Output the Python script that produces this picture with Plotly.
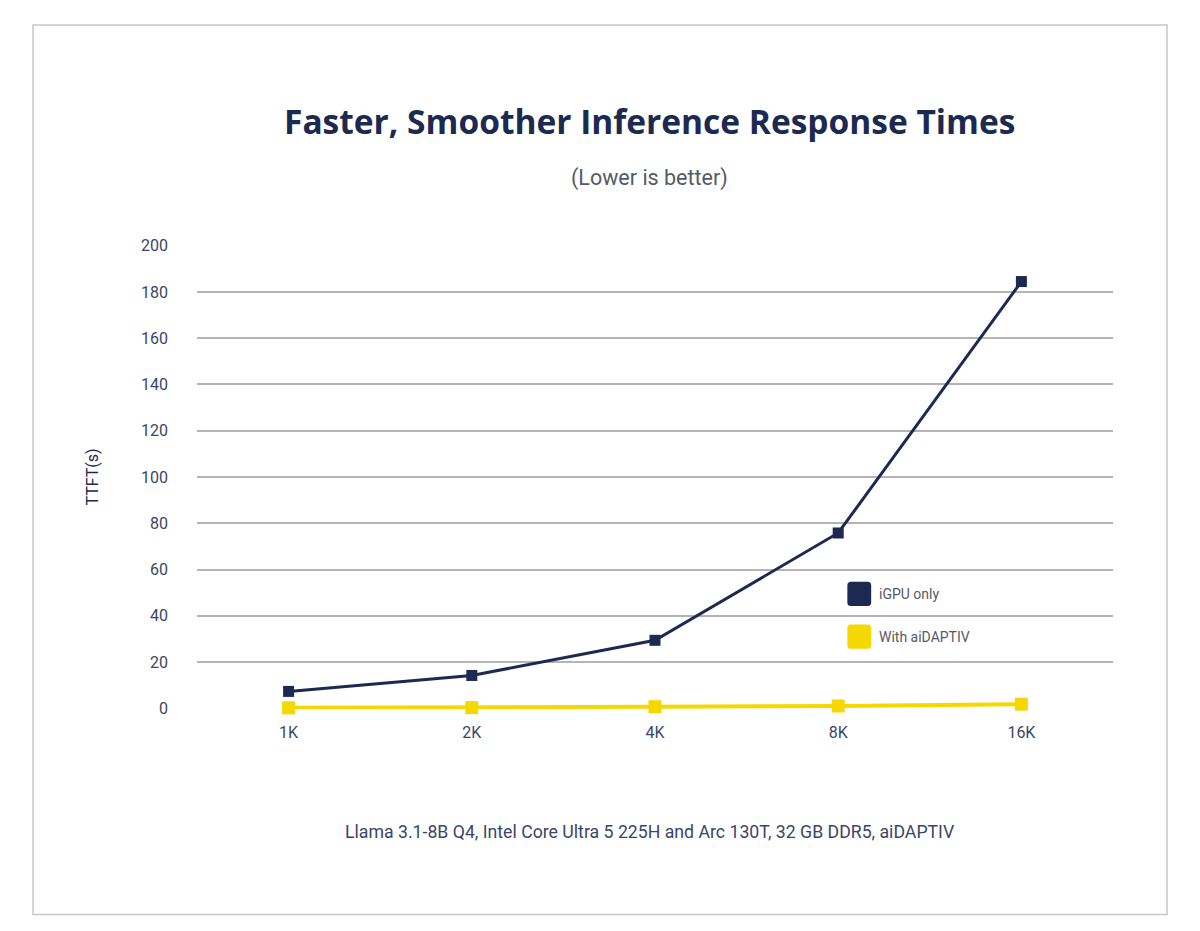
import plotly.graph_objects as go

# Data
context_sizes = ["1K", "2K", "4K", "8K", "16K"]
igpu_only = [7.3, 14.2, 29.4, 75.8, 184.5]
with_aidaptiv = [0.2, 0.3, 0.7, 1.0, 1.8]
y_ticks = [0, 20, 40, 60, 80, 100, 120, 140, 160, 180, 200]

NAVY = "#1c2951"
YELLOW = "#f5d800"
TEXT = "#3a4668"
GRID = "#b4b4b8"

fig = go.Figure()

fig.add_trace(go.Scatter(
    x=context_sizes, y=igpu_only,
    mode="lines+markers", name="iGPU only",
    line=dict(color=NAVY, width=3),
    marker=dict(symbol="square", size=11, color=NAVY),
    cliponaxis=False, showlegend=False
))

fig.add_trace(go.Scatter(
    x=context_sizes, y=with_aidaptiv,
    mode="lines+markers", name="With aiDAPTIV",
    line=dict(color=YELLOW, width=4),
    marker=dict(symbol="square", size=13, color=YELLOW),
    cliponaxis=False, showlegend=False
))

# Outer frame
shapes = [dict(type="rect", xref="paper", yref="paper",
               x0=-0.179, x1=1.059, y0=-0.443, y1=1.474,
               line=dict(color="#c8c8cc", width=1.5), layer="below")]

# Hand-drawn legend (rounded squares + labels)
legend_items = [("iGPU only", NAVY, 0.248), ("With aiDAPTIV", YELLOW, 0.156)]
annotations = []
for label, color, yc in legend_items:
    x0, x1 = 0.710, 0.736
    h = 0.026
    r = 0.004
    shapes.append(dict(
        type="path", xref="paper", yref="paper",
        path=(f"M {x0+r},{yc-h} L {x1-r},{yc-h} Q {x1},{yc-h} {x1},{yc-h+r*1.9} "
              f"L {x1},{yc+h-r*1.9} Q {x1},{yc+h} {x1-r},{yc+h} "
              f"L {x0+r},{yc+h} Q {x0},{yc+h} {x0},{yc+h-r*1.9} "
              f"L {x0},{yc-h+r*1.9} Q {x0},{yc-h} {x0+r},{yc-h} Z"),
        fillcolor=color, line=dict(width=0)
    ))
    annotations.append(dict(
        text=label, xref="paper", yref="paper", x=0.742, y=yc,
        xanchor="left", yanchor="middle", showarrow=False,
        font=dict(size=14, color="#555a66", family="Roboto")
    ))

annotations += [
    dict(text="<b>Faster, Smoother Inference Response Times</b>",
         xref="paper", yref="paper", x=0.494, y=1.268, xanchor="center",
         yanchor="middle", showarrow=False,
         font=dict(size=33.5, color=NAVY, family="Open Sans")),
    dict(text="(Lower is better)",
         xref="paper", yref="paper", x=0.494, y=1.145, xanchor="center",
         yanchor="middle", showarrow=False,
         font=dict(size=21.5, color="#555a66", family="Roboto")),
    dict(text="Llama 3.1-8B Q4, Intel Core Ultra 5 225H and Arc 130T, 32 GB DDR5, aiDAPTIV",
         xref="paper", yref="paper", x=0.494, y=-0.266, xanchor="center",
         yanchor="middle", showarrow=False,
         font=dict(size=17.7, color=TEXT, family="Roboto")),
]

fig.update_layout(
    width=1184, height=915,
    margin=dict(l=189, r=79, t=237, b=214),
    paper_bgcolor="white", plot_bgcolor="white",
    font=dict(family="Roboto", color=TEXT),
    shapes=shapes, annotations=annotations,
    xaxis=dict(
        type="category", range=[-0.5, 4.5],
        showgrid=False, zeroline=False, showline=False,
        ticks="", ticklabelstandoff=12,
        tickfont=dict(size=16, color=TEXT)
    ),
    yaxis=dict(
        range=[-0.3, 200.3], tickvals=y_ticks,
        showgrid=True, gridcolor=GRID, gridwidth=2,
        zeroline=False, showline=False, ticks="",
        ticklabelstandoff=28,
        tickfont=dict(size=16, color=TEXT),
        title=dict(text="TTFT(s)", font=dict(size=16, color=NAVY), standoff=38)
    ),
)

fig.write_html("out.html")
